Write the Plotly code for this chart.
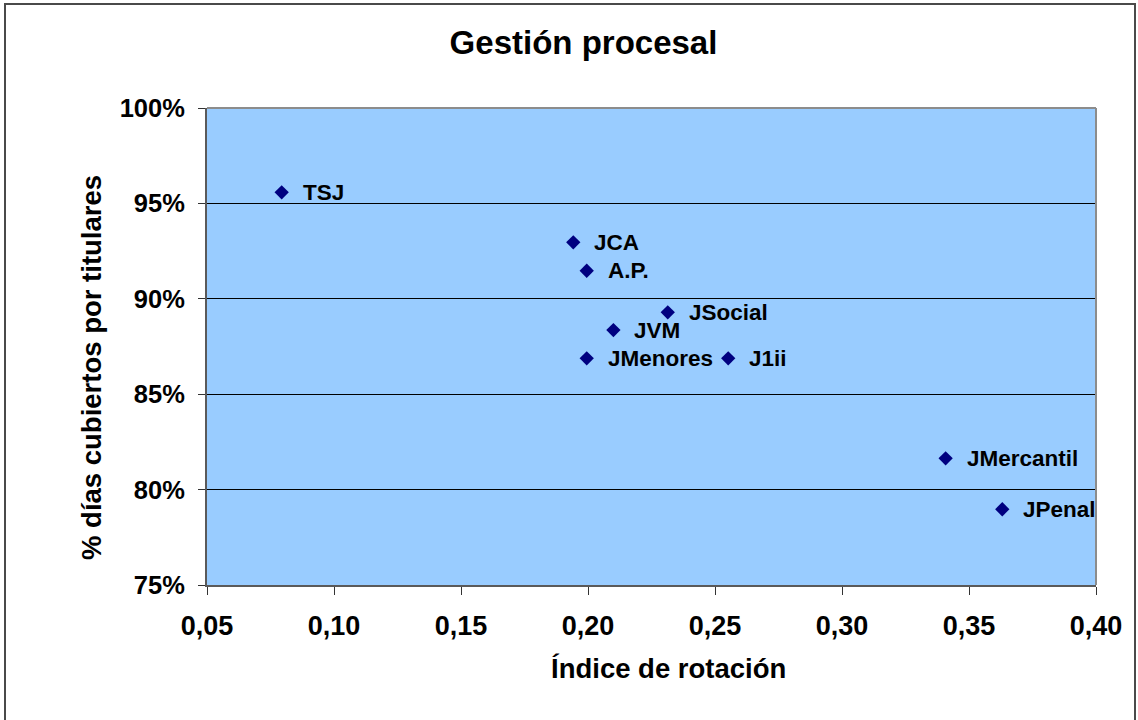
import plotly.graph_objects as go

# valores
organos = ["TSJ", "JCA", "A.P.", "JSocial", "JVM", "JMenores", "J1ii", "JMercantil", "JPenal"]
indice_rotacion = [0.0794, 0.1942, 0.1995, 0.2314, 0.2100, 0.1995, 0.2552, 0.3408, 0.3631]
pct_titulares = [0.9558, 0.9296, 0.9147, 0.8929, 0.8836, 0.8688, 0.8688, 0.8164, 0.7897]

FONT = "Liberation Sans, Arial, sans-serif"
PLOT_L, PLOT_R, PLOT_T, PLOT_B = 207, 1096, 108, 585
W, H = 1138, 720
PW, PH = PLOT_R - PLOT_L, PLOT_B - PLOT_T


def px_to_paper(x=None, y=None):
    if x is not None:
        return (x - PLOT_L) / PW
    return (PLOT_B - y) / PH


fig = go.Figure()
fig.add_trace(
    go.Scatter(
        x=indice_rotacion,
        y=pct_titulares,
        mode="markers",
        marker={"symbol": "diamond", "size": 11, "color": "#000080"},
        showlegend=False,
        cliponaxis=False,
    )
)

for name, xv, yv in zip(organos, indice_rotacion, pct_titulares):
    fig.add_annotation(
        x=xv, y=yv, text=name, showarrow=False, xanchor="left", yanchor="middle",
        xshift=19, font={"family": FONT, "size": 22.5, "color": "black", "weight": "bold"},
    )

# axis titles placed as annotations to match offsets
fig.add_annotation(
    xref="paper", yref="paper", x=px_to_paper(x=668), y=px_to_paper(y=668),
    text="Índice de rotación", showarrow=False, xanchor="center", yanchor="middle",
    font={"family": FONT, "size": 27.5, "color": "black", "weight": "bold"},
)
fig.add_annotation(
    xref="paper", yref="paper", x=px_to_paper(x=91), y=px_to_paper(y=368),
    text="% días cubiertos por titulares", showarrow=False, textangle=-90,
    xanchor="center", yanchor="middle",
    font={"family": FONT, "size": 27.5, "color": "black", "weight": "bold"},
)

# top/right plot frame in gray
fig.add_shape(type="line", xref="paper", yref="paper", x0=0, x1=1, y0=1, y1=1,
              line={"color": "#8c8c8c", "width": 2})
fig.add_shape(type="line", xref="paper", yref="paper", x0=1, x1=1, y0=0, y1=1,
              line={"color": "#8c8c8c", "width": 2})
# outer chart border
fig.add_shape(type="rect", xref="paper", yref="paper",
              x0=px_to_paper(x=5), x1=px_to_paper(x=1135),
              y0=px_to_paper(y=730), y1=px_to_paper(y=4),
              line={"color": "#4a4a4a", "width": 2}, fillcolor="rgba(0,0,0,0)")

fig.update_layout(
    width=W, height=H,
    paper_bgcolor="white",
    plot_bgcolor="#99ccff",
    separators=",.",
    margin={"l": PLOT_L, "r": W - PLOT_R, "t": PLOT_T, "b": H - PLOT_B, "autoexpand": False},
    title={
        "text": "Gestión procesal", "x": 583.5 / W, "xanchor": "center",
        "y": 1 - 42 / H, "yanchor": "middle",
        "font": {"family": FONT, "size": 33, "color": "black", "weight": "bold"},
    },
    font={"family": FONT, "color": "black"},
)
fig.update_xaxes(
    range=[0.05, 0.40], dtick=0.05, tick0=0.05, tickformat=".2f",
    showgrid=False, zeroline=False,
    showline=True, linecolor="#5a5a5a", linewidth=2,
    ticks="outside", ticklen=8, tickcolor="#333333", tickwidth=1,
    ticklabelstandoff=8,
    tickfont={"family": FONT, "size": 27, "color": "black", "weight": "bold"},
)
fig.update_yaxes(
    range=[0.75, 1.00], dtick=0.05, tick0=0.75, tickformat=".0%",
    showgrid=True, gridcolor="black", gridwidth=1, zeroline=False,
    showline=True, linecolor="#5a5a5a", linewidth=2,
    ticks="outside", ticklen=7, tickcolor="#333333", tickwidth=1,
    ticklabelstandoff=8,
    tickfont={"family": FONT, "size": 25.5, "color": "black", "weight": "bold"},
)

fig.write_html(
    "out.html",
    config={"displayModeBar": False},
    post_script="document.body.style.margin='0';",
)
